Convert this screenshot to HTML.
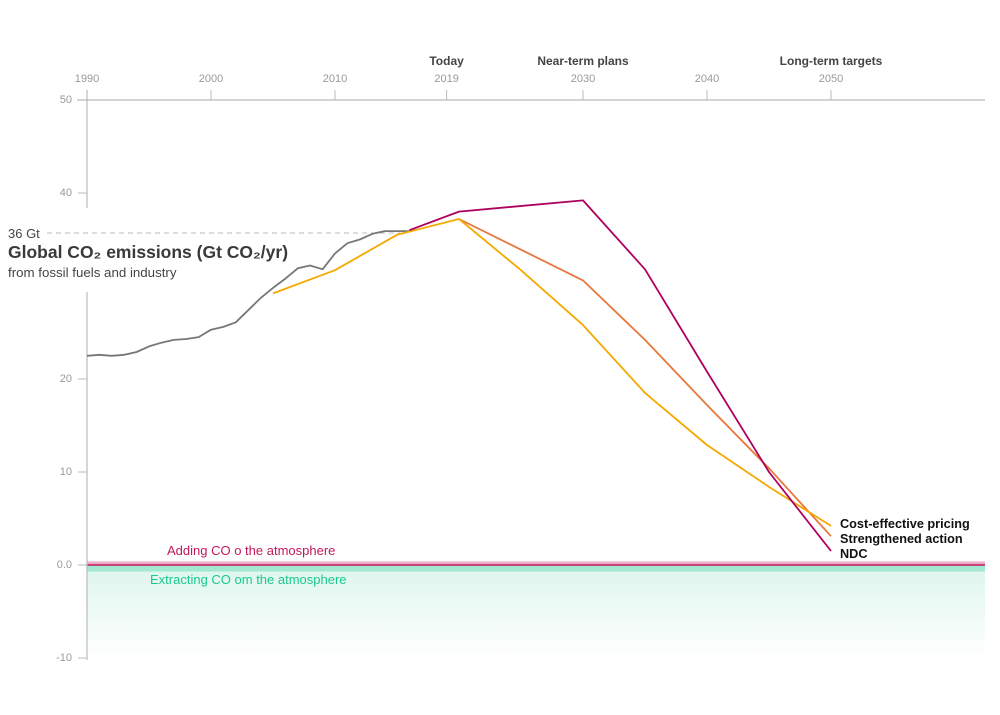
<!DOCTYPE html>
<html><head><meta charset="utf-8">
<style>
body{margin:0;background:#fff;}
svg{display:block;font-family:"Liberation Sans",sans-serif;}
</style></head>
<body>
<svg id="chart" width="1000" height="715" viewBox="0 0 1000 715">
<defs>
<linearGradient id="neg" x1="0" y1="0" x2="0" y2="1">
<stop offset="0" stop-color="#dff6ee"/><stop offset="1" stop-color="#ffffff"/>
</linearGradient>
</defs>
<g id="bg"></g>
<g id="axes"></g>
<g id="series"></g>
<g id="labels"></g>
</svg>
<script>
const histYears=[1990,1991,1992,1993,1994,1995,1996,1997,1998,1999,2000,2001,2002,2003,2004,2005,2006,2007,2008,2009,2010,2011,2012,2013,2014,2015,2016];
const histValues=[22.5,22.6,22.5,22.6,22.9,23.5,23.9,24.2,24.3,24.5,25.3,25.6,26.1,27.4,28.7,29.8,30.8,31.9,32.2,31.8,33.5,34.6,35.0,35.6,35.9,35.9,35.9];
const ndcYears=[2016,2020,2030,2035,2040,2045,2050];
const ndcValues=[36.0,38.0,39.2,31.8,20.8,10.0,1.5];
const strongYears=[2020,2030,2035,2040,2045,2050];
const strongValues=[37.2,30.6,24.2,17.2,10.4,3.1];
const costYears=[2005,2010,2015,2020,2025,2030,2035,2040,2045,2050];
const costValues=[29.2,31.7,35.5,37.2,31.7,25.8,18.5,12.9,8.4,4.2];
const xTicks=[1990,2000,2010,2019,2030,2040,2050];
const yTicks=[50,40,20,10,0,-10];
const yTickLabels=["50","40","20","10","0.0","-10"];

const NS="http://www.w3.org/2000/svg";
const x=yr=>87+12.4*(yr-1990);
const y=v=>565-9.3*v;
function mk(parent,tag,attrs,text){const e=document.createElementNS(NS,tag);for(const k in attrs)e.setAttribute(k,attrs[k]);if(text!==undefined)e.textContent=text;document.getElementById(parent).appendChild(e);return e;}

let e;
e=mk('bg','rect',{x:87,y:y(0)+6,width:898,height:y(-10)-y(0)-6,fill:'url(#neg)'});


e=mk('bg','rect',{x:87,y:y(0)-3.5,width:898,height:3.5,fill:'#eeaccb'});


e=mk('bg','rect',{x:87,y:y(0)+0.5,width:898,height:6,fill:'#a3e8d0'});


e=mk('bg','line',{x1:87,x2:985,y1:y(0),y2:y(0),stroke:'#c2185b','stroke-width':1.5});



e=mk('axes','line',{x1:77,x2:985,y1:100,y2:100,stroke:'#bbb','stroke-width':1.2});


e=mk('axes','line',{x1:87,x2:87,y1:90,y2:208,stroke:'#bbb','stroke-width':1.2});


e=mk('axes','line',{x1:87,x2:87,y1:292,y2:660,stroke:'#bbb','stroke-width':1.2});


xTicks.forEach(t=>{
  const l=mk('axes','line',{x1:x(t),x2:x(t),y1:90,y2:100,stroke:'#bbb','stroke-width':1});
  
  
  const tx=mk('axes','text',{x:x(t),y:82,'text-anchor':'middle','font-size':11,fill:'#999'},String(t));
  
  
});
yTicks.forEach((t,i)=>{
  const l=mk('axes','line',{x1:78,x2:87,y1:y(t),y2:y(t),stroke:'#bbb','stroke-width':1});
  
  
  const tx=mk('axes','text',{x:72,y:y(t)+3,'text-anchor':'end','font-size':11,fill:'#999'},yTickLabels[i]);
  
  
});
[["Today",2019],["Near-term plans",2030],["Long-term targets",2050]].forEach(p=>{
  const tx=mk('axes','text',{x:x(p[1]),y:65,'text-anchor':'middle','font-size':12,'font-weight':'bold',fill:'#444'},p[0]);
  
  
});

e=mk('axes','line',{x1:47,x2:400,y1:233,y2:233,stroke:'#bbb','stroke-dasharray':'5,4','stroke-width':1});


e=mk('labels','text',{x:8,y:238,'font-size':13,fill:'#444'},'36 Gt');


e=mk('labels','text',{x:8,y:258,'font-size':17.5,'font-weight':'bold',fill:'#3a3a3a'},'Global CO₂ emissions (Gt CO₂/yr)');


e=mk('labels','text',{x:8,y:277,'font-size':13.3,fill:'#444'},'from fossil fuels and industry');



function line(years,vals,color,name){
  const d=years.map((yr,i)=>(i?'L':'M')+x(yr).toFixed(1)+','+y(vals[i]).toFixed(1)).join(' ');
  const p=mk('series','path',{d:d,fill:'none',stroke:color,'stroke-width':1.8,'stroke-linejoin':'round'});
  
  
}
line(histYears,histValues,'#777','historical-emissions-line');
line(strongYears,strongValues,'#e8773a','strengthened-action-line');
line(costYears,costValues,'#f5a800','cost-effective-pricing-line');
line(ndcYears,ndcValues,'#b0005e','ndc-line');

[["Cost-effective pricing",528],["Strengthened action",543],["NDC",558]].forEach(p=>{
  const tx=mk('labels','text',{x:840,y:p[1],'font-size':12.7,'font-weight':'bold',fill:'#111'},p[0]);
  
  
});
e=mk('labels','text',{x:167,y:555,'font-size':13,fill:'#c2185b'},'Adding CO o the atmosphere');


e=mk('labels','text',{x:150,y:584,'font-size':13,fill:'#1bc98e'},'Extracting CO om the atmosphere');


</script>
</body></html>
